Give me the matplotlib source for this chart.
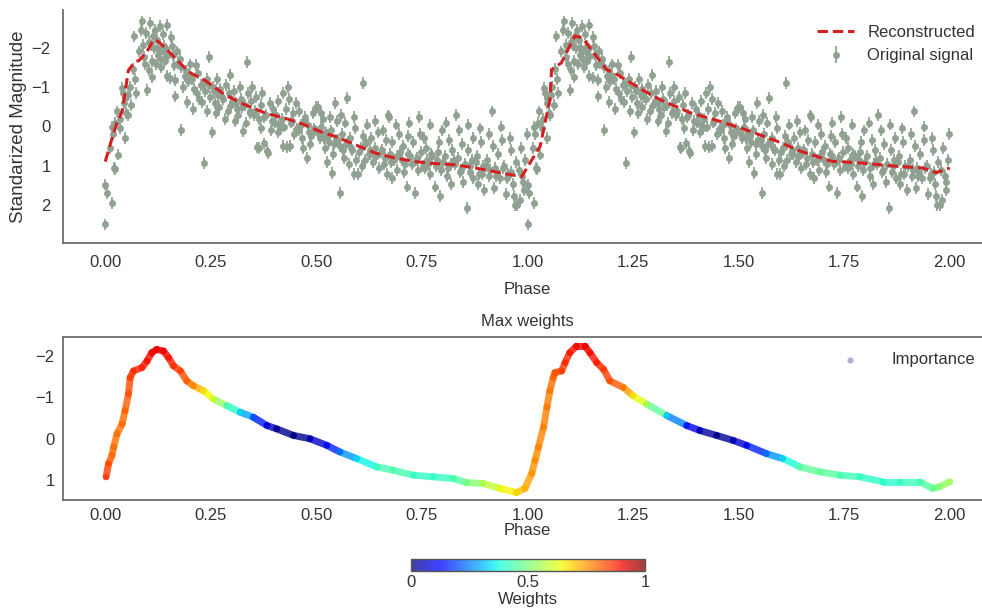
import numpy as np
import matplotlib
matplotlib.use("Agg")
import matplotlib.pyplot as plt
from matplotlib.collections import LineCollection
from matplotlib.cm import ScalarMappable
from matplotlib.colors import Normalize

plt.rcParams['font.family'] = ['Liberation Sans', 'DejaVu Sans']

# ---------------- data ----------------
# one folded period of the observed light curve (phase, standardized magnitude)
obs_phase = [
    0.000, 0.000, 0.004, 0.016, 0.020, 0.022, 0.012, 0.016, 0.018, 0.030, 0.024,
    0.028, 0.047, 0.040, 0.047, 0.050, 0.053, 0.045, 0.055, 0.036, 0.042, 0.035,
    0.058, 0.062, 0.065, 0.067, 0.070, 0.072,
    0.079, 0.087, 0.090, 0.097, 0.095, 0.100, 0.085, 0.092,
    0.106, 0.104, 0.116, 0.103, 0.110, 0.120, 0.110, 0.113, 0.118, 0.122, 0.124,
    0.127, 0.136, 0.131, 0.138, 0.142, 0.147, 0.146, 0.146, 0.140, 0.133, 0.130,
    0.155, 0.154, 0.160, 0.166, 0.170, 0.166, 0.176, 0.163, 0.158,
    0.180, 0.180, 0.188, 0.193, 0.196, 0.200, 0.185, 0.192,
    0.217, 0.220, 0.205, 0.210, 0.215, 0.222, 0.208,
    0.233, 0.229, 0.232, 0.245, 0.240, 0.236, 0.248, 0.242, 0.246,
    0.252, 0.255, 0.260, 0.265, 0.268, 0.262, 0.272, 0.270,
    0.280, 0.285, 0.290, 0.296, 0.292, 0.298, 0.283,
    0.305, 0.310, 0.315, 0.318, 0.322, 0.308, 0.312,
    0.327, 0.335, 0.330, 0.338, 0.342, 0.346, 0.333, 0.348,
    0.360, 0.363, 0.355, 0.358, 0.365, 0.368, 0.372, 0.370,
    0.375, 0.383, 0.386, 0.380, 0.390, 0.395, 0.392, 0.398,
    0.405, 0.410, 0.415, 0.420, 0.418, 0.422, 0.408,
    0.430, 0.433, 0.438, 0.428, 0.440, 0.445, 0.448, 0.436,
    0.455, 0.460, 0.465, 0.470, 0.452, 0.468, 0.473,
    0.477, 0.480, 0.488, 0.492, 0.496, 0.485, 0.498,
    0.504, 0.508, 0.512, 0.516, 0.520, 0.525, 0.522, 0.510,
    0.537, 0.544, 0.530, 0.535, 0.540, 0.548, 0.532, 0.546,
    0.556, 0.572, 0.555, 0.560, 0.565, 0.568, 0.558, 0.570,
    0.590, 0.598, 0.580, 0.585, 0.592, 0.588, 0.595, 0.578,
    0.611, 0.605, 0.610, 0.615, 0.620, 0.618, 0.608, 0.624,
    0.630, 0.635, 0.640, 0.645, 0.648, 0.638, 0.628,
    0.670, 0.672, 0.655, 0.660, 0.665, 0.668, 0.674, 0.658,
    0.680, 0.685, 0.690, 0.695, 0.698, 0.688, 0.678,
    0.714, 0.705, 0.710, 0.718, 0.722, 0.708, 0.720,
    0.734, 0.728, 0.735, 0.740, 0.745, 0.748, 0.742,
    0.760, 0.765, 0.770, 0.755, 0.772, 0.768, 0.758,
    0.780, 0.793, 0.785, 0.790, 0.795, 0.798, 0.788,
    0.805, 0.810, 0.815, 0.820, 0.808, 0.822, 0.818,
    0.830, 0.835, 0.840, 0.845, 0.848, 0.838, 0.828,
    0.856, 0.860, 0.865, 0.870, 0.872, 0.858, 0.868,
    0.880, 0.885, 0.890, 0.895, 0.898, 0.888, 0.882,
    0.915, 0.905, 0.910, 0.918, 0.922, 0.908, 0.920,
    0.930, 0.935, 0.940, 0.945, 0.948, 0.938, 0.928,
    0.955, 0.960, 0.965, 0.970, 0.972, 0.958, 0.968,
    0.976, 0.980, 0.985, 0.990, 0.995, 0.982, 0.992, 0.998,
    # denser core of the band, close to the curve
    0.108, 0.126, 0.143, 0.172, 0.198, 0.226, 0.258, 0.277, 0.301, 0.324,
    0.344, 0.352, 0.377, 0.401, 0.412, 0.424, 0.442, 0.458, 0.463, 0.482,
    0.494, 0.506, 0.518, 0.528, 0.542, 0.552, 0.562, 0.575, 0.582, 0.601,
    0.614, 0.626, 0.642, 0.652, 0.663, 0.676, 0.692, 0.702, 0.716, 0.726,
    0.738, 0.752, 0.763, 0.775, 0.783, 0.800, 0.812, 0.826, 0.842, 0.852,
    0.863, 0.878, 0.892, 0.902, 0.912, 0.925, 0.942, 0.952, 0.962, 0.988,
]
obs_mag = [
    2.48, 1.47, 1.69, 1.94, 1.05, 1.08, 0.55, 0.00, 0.20, 0.71, -0.10,
    -0.38, 0.30, -0.97, -0.72, -0.35, -0.30, -0.60, -0.80, -0.20, -0.85, 0.05,
    -1.00, -0.55, -1.45, -2.28, -1.20, -0.85,
    -1.90, -2.66, -2.07, -2.37, -1.57, -0.93, -2.45, -1.75,
    -2.62, -2.14, -1.98, -1.44, -1.65, -1.57, -1.25, -2.30, -2.45, -2.20, -1.80,
    -1.87, -2.33, -1.71, -1.91, -1.67, -1.79, -2.57, -1.27, -2.05, -1.50, -2.55,
    -2.27, -1.22, -1.82, -1.18, -1.90, -0.76, -1.70, -1.55, -2.05,
    0.08, -1.50, -1.27, -0.63, -1.14, -1.57, -1.00, -1.40,
    -0.84, -1.35, -1.20, -0.95, -1.55, -0.70, -0.45,
    0.93, -0.63, -1.07, -1.77, -1.20, -0.90, -0.75, -0.40, -1.05,
    0.15, -1.00, -0.60, -1.20, -0.80, -0.35, -0.95, -0.50,
    -0.70, -1.05, -0.40, -1.31, -0.85, -0.55, -0.20,
    -0.90, -0.60, -0.30, -1.00, -0.70, -0.15, -0.45,
    0.12, -1.63, -0.55, -0.85, -0.35, -0.65, -0.10, -1.00,
    0.53, 0.55, -0.40, -0.75, -0.20, -0.55, -0.85, 0.05,
    0.43, 0.62, 0.67, -0.30, -0.60, -0.15, 0.10, -0.45,
    -0.30, -0.65, 0.05, 0.50, -0.20, -0.85, 0.15,
    0.52, -1.01, 0.50, -0.45, -0.10, -0.35, 0.20, -0.70,
    0.05, -0.40, 0.30, -0.15, -0.60, 0.55, -0.25,
    0.80, -0.05, 0.25, -0.35, 0.10, 0.45, -0.50,
    -0.50, 0.30, 0.00, -0.20, 0.55, 0.89, 0.15, -0.33,
    1.18, -0.59, 0.40, 0.10, 0.70, -0.15, -0.25, 0.35,
    1.69, -0.72, 0.50, 0.20, 0.80, -0.10, -0.30, 0.45,
    1.20, 1.20, 0.30, 0.60, 0.05, -0.25, 0.85, 0.95,
    -1.10, 0.55, 0.25, 0.85, -0.05, 0.40, 1.00, 0.70,
    0.30, 0.90, 0.55, 0.15, 1.05, -0.15, 0.70,
    -0.28, -0.25, 0.60, 0.95, 0.35, 1.20, 0.70, 0.10,
    0.40, 0.85, 1.10, 0.20, 0.65, -0.05, 1.30,
    1.52, 0.50, 0.95, 0.25, 0.75, 1.15, -0.10,
    1.69, 0.40, 0.85, 1.10, 0.20, 0.65, -0.25,
    0.55, 0.95, 1.20, 0.30, 0.70, -0.05, 1.05,
    1.52, 1.77, 0.85, 0.40, 1.10, 0.10, 0.65,
    0.75, 1.25, 0.35, 0.95, -0.10, 0.60, 1.45,
    -0.30, 0.80, 1.15, 0.45, 1.40, 0.10, 0.95,
    2.07, 0.60, 1.00, 0.30, 1.30, -0.05, 0.85,
    0.75, 1.20, 0.40, 1.00, 1.60, 0.05, 1.45,
    -0.38, 0.85, 1.25, 0.50, 1.05, 0.20, 1.55,
    0.70, 1.30, 0.35, 1.00, 1.70, 0.00, 1.15,
    1.20, 0.60, 1.45, 1.98, 0.90, 0.30, 1.75,
    1.98, 1.10, 0.55, 1.40, 0.85, 1.85, 1.60, 0.20,
    # denser core
    -2.05, -2.00, -1.95, -1.60, -1.30, -1.05, -0.90, -0.75, -0.62, -0.50,
    -0.40, -0.30, -0.25, -0.10, -0.05, 0.00, -0.15, 0.10, -0.05, 0.15,
    0.05, 0.20, 0.30, 0.25, 0.45, 0.35, 0.60, 0.40, 0.55, 0.65,
    0.45, 0.60, 0.75, 0.65, 0.80, 0.90, 0.75, 0.85, 0.70, 0.95,
    0.80, 1.00, 0.85, 0.75, 1.00, 0.90, 1.05, 0.85, 1.10, 0.95,
    1.15, 0.90, 1.20, 1.00, 1.10, 1.25, 1.05, 1.30, 1.15, 1.25,
]
obs_err = 0.15

# reconstructed signal (dashed red line)
recon_phase = [0.000, 0.016, 0.028, 0.040, 0.055, 0.071, 0.080, 0.099, 0.114, 0.125,
               0.154, 0.185, 0.203, 0.237, 0.284, 0.331, 0.379, 0.426, 0.473, 0.509,
               0.544, 0.592, 0.639, 0.686, 0.734, 0.770, 0.828, 0.876, 0.939, 0.986,
               1.006, 1.030, 1.053, 1.057, 1.080, 1.112, 1.130, 1.187, 1.215, 1.270,
               1.314, 1.385, 1.456, 1.527, 1.600, 1.645, 1.720, 1.787, 1.865, 1.936,
               1.968, 2.000]
recon_mag = [0.89, 0.30, -0.10, -0.38, -1.43, -1.64, -1.67, -1.90, -2.19, -2.16,
             -1.86, -1.52, -1.35, -1.16, -0.80, -0.55, -0.34, -0.21, -0.04, 0.13,
             0.25, 0.46, 0.67, 0.80, 0.89, 0.93, 0.97, 1.05, 1.18, 1.27,
             0.92, 0.50, -0.68, -1.44, -1.61, -2.29, -2.25, -1.44, -1.30, -0.94,
             -0.68, -0.35, -0.13, 0.12, 0.41, 0.62, 0.88, 0.92, 1.00, 1.05,
             1.17, 1.05]

# importance (max weights) along the reconstructed curve
imp_phase = [0.002, 0.008, 0.016, 0.020, 0.028, 0.040, 0.047, 0.055, 0.059, 0.067,
             0.087, 0.099, 0.110, 0.122, 0.138, 0.150, 0.162, 0.178, 0.193, 0.209,
             0.233, 0.256, 0.288, 0.320, 0.351, 0.383, 0.406, 0.446, 0.485, 0.525,
             0.556, 0.596, 0.643, 0.682, 0.730, 0.777, 0.824, 0.856, 0.895, 0.935,
             0.974, 0.994,
             1.010, 1.018, 1.026, 1.038, 1.046, 1.053, 1.061, 1.065, 1.081, 1.089,
             1.100, 1.116, 1.136, 1.148, 1.164, 1.180, 1.195, 1.227, 1.250, 1.282,
             1.330, 1.377, 1.408, 1.448, 1.487, 1.519, 1.566, 1.605, 1.645, 1.692,
             1.740, 1.787, 1.842, 1.882, 1.929, 1.960, 1.976, 2.000]
imp_mag = [0.92, 0.60, 0.40, 0.20, -0.12, -0.36, -0.68, -1.08, -1.48, -1.64,
           -1.72, -1.88, -2.08, -2.16, -2.12, -1.96, -1.76, -1.64, -1.40, -1.28,
           -1.16, -0.96, -0.80, -0.64, -0.52, -0.32, -0.24, -0.08, 0.00, 0.16,
           0.32, 0.48, 0.68, 0.76, 0.88, 0.92, 0.96, 1.06, 1.08, 1.20,
           1.30, 1.20,
           0.84, 0.52, 0.20, -0.28, -0.76, -1.16, -1.48, -1.60, -1.64, -1.84,
           -2.08, -2.24, -2.24, -2.08, -1.84, -1.68, -1.40, -1.24, -1.04, -0.84,
           -0.56, -0.32, -0.20, -0.08, 0.04, 0.16, 0.36, 0.48, 0.68, 0.80,
           0.88, 0.92, 1.04, 1.04, 1.04, 1.20, 1.16, 1.04]
imp_weight = [0.86, 0.83, 0.80, 0.79, 0.79, 0.79, 0.80, 0.82, 0.84, 0.86,
              0.87, 0.89, 0.90, 0.91, 0.91, 0.89, 0.86, 0.84, 0.81, 0.78,
              0.68, 0.62, 0.45, 0.35, 0.22, 0.08, 0.03, 0.00, 0.03, 0.10,
              0.22, 0.32, 0.42, 0.45, 0.42, 0.40, 0.43, 0.48, 0.55, 0.62,
              0.68, 0.72,
              0.75, 0.76, 0.77, 0.77, 0.78, 0.78, 0.80, 0.82, 0.84, 0.86,
              0.88, 0.90, 0.91, 0.90, 0.88, 0.85, 0.83, 0.80, 0.68, 0.58,
              0.35, 0.15, 0.05, 0.00, 0.04, 0.10, 0.22, 0.32, 0.45, 0.48,
              0.44, 0.42, 0.40, 0.41, 0.43, 0.47, 0.50, 0.55]

xticks = [0.00, 0.25, 0.50, 0.75, 1.00, 1.25, 1.50, 1.75, 2.00]

# ---------------- figure ----------------
W, H = 982, 612
fig = plt.figure(figsize=(W / 100, H / 100), dpi=100)
spine_c = '#6e6e6e'
text_c = '#333333'
fs = 12

def px_axes(x0, y0, x1, y1):
    return fig.add_axes([x0 / W, 1 - y1 / H, (x1 - x0) / W, (y1 - y0) / H])

# ---- top panel
ax1 = px_axes(63, 10, 992, 243)
ph = np.asarray(obs_phase)
mg = np.asarray(obs_mag)
all_ph = np.concatenate([ph, ph + 1.0])
all_mg = np.concatenate([mg, mg])
ax1.errorbar(all_ph, all_mg, yerr=obs_err, fmt='o', ms=4.0, color='#8fa091',
             ecolor='#8fa091', elinewidth=1.3, capsize=0, alpha=0.95,
             label='Original signal', zorder=2)
ax1.plot(recon_phase, recon_mag, ls=(0, (3.4, 1.6)), color='#d42020', lw=2.2,
         label='Reconstructed', zorder=3)
ax1.set_xlim(-0.1, 2.1)
ax1.set_ylim(2.95, -2.95)
ax1.set_yticks([-2, -1, 0, 1, 2])
ax1.set_yticklabels(['\u22122', '\u22121', '0', '1', '2'])
ax1.set_xticks(xticks)
ax1.set_xticklabels([f'{v:.2f}' for v in xticks])
for s in ['top', 'right']:
    ax1.spines[s].set_visible(False)
for s in ['left', 'bottom']:
    ax1.spines[s].set_color(spine_c)
    ax1.spines[s].set_linewidth(1.3)
ax1.tick_params(length=0, labelsize=fs, colors=text_c, pad=9)
ax1.set_xlabel('Phase', fontsize=fs, color=text_c, labelpad=8)
ax1.set_ylabel('Standarized Magnitude', fontsize=13.5, color=text_c, labelpad=3)
h, l = ax1.get_legend_handles_labels()
order = [l.index('Reconstructed'), l.index('Original signal')]
ax1.legend([h[i] for i in order], [l[i] for i in order], loc='upper right',
           frameon=False, fontsize=fs, bbox_to_anchor=(0.998, 1.0),
           handlelength=2.2, labelcolor=text_c)

# ---- bottom panel
ax2 = px_axes(63, 337, 992, 500)
cmap = plt.get_cmap('jet')
norm = Normalize(0, 1)
ip = np.asarray(imp_phase)
im = np.asarray(imp_mag)
iw = np.asarray(imp_weight)
pts = np.column_stack([ip, im]).reshape(-1, 1, 2)
segs = np.concatenate([pts[:-1], pts[1:]], axis=1)
lc = LineCollection(segs, cmap=cmap, norm=norm, linewidth=5, alpha=0.8,
                    capstyle='round')
lc.set_array((iw[:-1] + iw[1:]) / 2)
ax2.add_collection(lc)
ax2.scatter(ip, im, c=iw, cmap=cmap, norm=norm, s=18, alpha=0.7,
            edgecolors='none', zorder=3)
ax2.scatter([], [], s=12, color='#a9b4cc', label='Importance')
ax2.set_xlim(-0.1, 2.1)
ax2.set_ylim(1.48, -2.46)
ax2.set_yticks([-2, -1, 0, 1])
ax2.set_yticklabels(['\u22122', '\u22121', '0', '1'])
ax2.set_xticks(xticks)
ax2.set_xticklabels([f'{v:.2f}' for v in xticks])
for s in ax2.spines.values():
    s.set_color(spine_c)
    s.set_linewidth(1.3)
ax2.tick_params(length=0, labelsize=fs, colors=text_c, pad=6)
ax2.set_xlabel('Phase', fontsize=fs, color=text_c, labelpad=0)
ax2.set_title('Max weights', fontsize=12, color=text_c, pad=8)
ax2.legend(loc='upper right', frameon=False, fontsize=fs,
           bbox_to_anchor=(0.998, 1.0), labelcolor=text_c, handletextpad=1.5)

# ---- colorbar
cax = px_axes(411, 559, 645, 571)
sm = ScalarMappable(norm=norm, cmap=cmap)
cb = fig.colorbar(sm, cax=cax, orientation='horizontal', ticks=[0, 0.5, 1],
                  alpha=0.75)
cb.set_ticklabels(['0', '0.5', '1'])
cb.outline.set_edgecolor('#555555')
cb.outline.set_linewidth(1.0)
cax.tick_params(length=0, labelsize=fs, colors=text_c, pad=3)
cb.set_label('Weights', fontsize=fs, color=text_c, labelpad=1)

fig.savefig('out.png', dpi=100)
